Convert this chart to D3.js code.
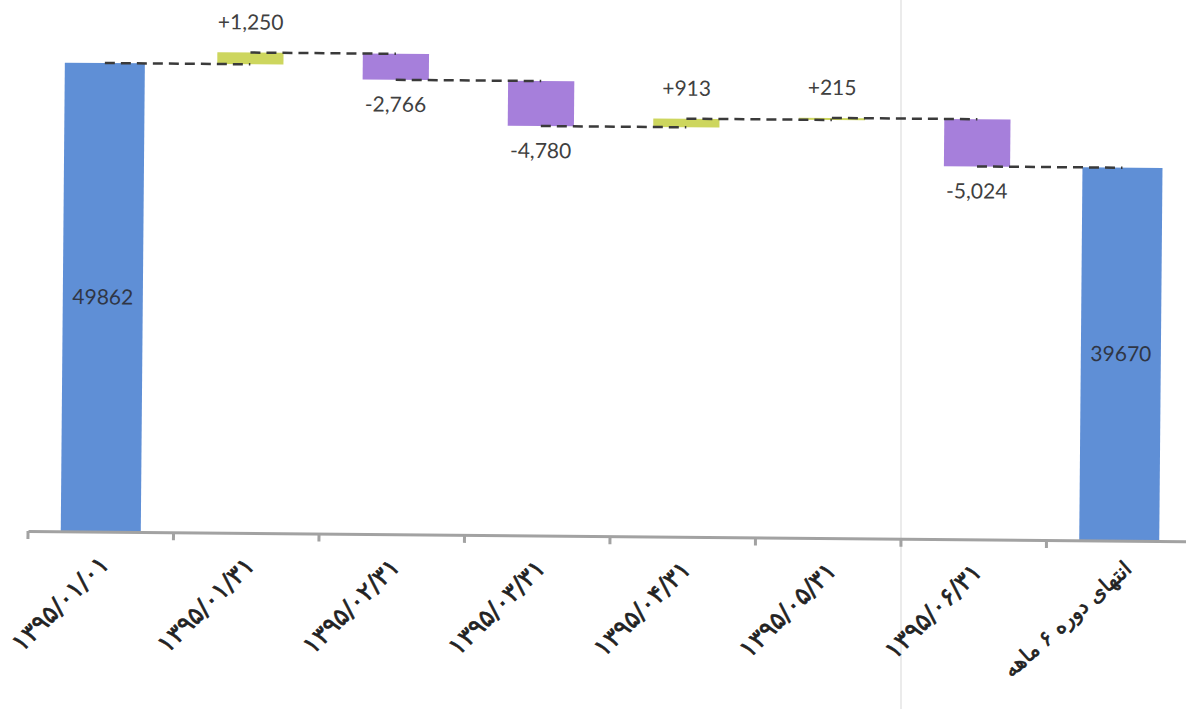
<!DOCTYPE html>
<html>
<head>
<meta charset="utf-8">
<script src="https://cdn.jsdelivr.net/npm/d3@7"></script>
<style>
  body { margin: 0; background: #ffffff; }
  svg { display: block; }
</style>
</head>
<body>
<div id="chart"></div>
<script>
// categories (Persian dates) and waterfall values
const categories = [
  "۱۳۹۵/۰۱/۰۱",
  "۱۳۹۵/۰۱/۳۱",
  "۱۳۹۵/۰۲/۳۱",
  "۱۳۹۵/۰۳/۳۱",
  "۱۳۹۵/۰۴/۳۱",
  "۱۳۹۵/۰۵/۳۱",
  "۱۳۹۵/۰۶/۳۱",
  "انتهای دوره ۶ ماهه"
];
const values = [49862, 1250, -2766, -4780, 913, 215, -5024, 39670];
const kinds = ["total", "delta", "delta", "delta", "delta", "delta", "delta", "total"];
const valueLabels = ["49862", "+1,250", "-2,766", "-4,780", "+913", "+215", "-5,024", "39670"];

const width = 1186, height = 709;
const baseline = 536;

const svg = d3.select("#chart").append("svg")
  .attr("width", width)
  .attr("height", height);

// faint vertical fold line of the scanned page
svg.append("line")
  .attr("x1", 901).attr("x2", 901)
  .attr("y1", 0).attr("y2", height)
  .attr("stroke", "#e4e4e4")
  .attr("stroke-width", 1.5);

// the scan is tilted a little, so the whole chart is turned by half a degree
const g = svg.append("g")
  .attr("transform", `rotate(0.5, 593, ${baseline})`);

// running totals for each step
let running = 0;
const steps = values.map((v, i) => {
  let y0, y1;
  if (kinds[i] === "total") {
    y0 = 0; y1 = v; running = v;
  } else {
    y0 = running; y1 = running + v; running = y1;
  }
  return { cat: categories[i], value: v, kind: kinds[i], y0, y1, end: running, label: valueLabels[i] };
});

const x = d3.scaleBand()
  .domain(categories)
  .range([28, 1192])
  .padding(0);

const y = d3.scaleLinear()
  .domain([0, 51112])
  .range([baseline, baseline - 51112 * 0.00940]);

const colors = { total: "#5f8fd6", up: "#cdd65e", down: "#a67fdb" };

const barW = d => (d.kind === "total" ? x.bandwidth() * 0.55 : x.bandwidth() * 0.455);
const cx = d => x(d.cat) + x.bandwidth() / 2;

// bars
g.selectAll("rect.bar")
  .data(steps)
  .enter()
  .append("rect")
  .attr("class", "bar")
  .attr("x", d => cx(d) - barW(d) / 2)
  .attr("width", d => barW(d))
  .attr("y", d => y(Math.max(d.y0, d.y1)))
  .attr("height", d => Math.abs(y(d.y0) - y(d.y1)))
  .style("fill", d => d.kind === "total" ? colors.total : (d.value >= 0 ? colors.up : colors.down));

// dashed connectors from bar centre to next bar centre
g.selectAll("line.conn")
  .data(steps.slice(0, -1))
  .enter()
  .append("line")
  .attr("class", "conn")
  .attr("x1", d => cx(d))
  .attr("x2", (d, i) => cx(steps[i + 1]))
  .attr("y1", d => y(d.end))
  .attr("y2", d => y(d.end))
  .attr("stroke", "#3a3a3a")
  .attr("stroke-width", 2.5)
  .attr("stroke-dasharray", "10,6");

// value labels
g.selectAll("text.val")
  .data(steps)
  .enter()
  .append("text")
  .attr("class", "val")
  .attr("x", d => cx(d))
  .attr("y", d => {
    if (d.kind === "total") return (y(0) + y(d.y1)) / 2 + 7;
    if (d.value >= 0) return y(d.y1) - 23;
    return y(d.y1) + 32;
  })
  .attr("text-anchor", "middle")
  .style("font-family", "Lato, 'Open Sans', sans-serif")
  .style("font-size", "21px")
  .style("fill", d => d.kind === "total" ? "#2f3645" : "#404040")
  .text(d => d.label);

// x axis
const axis = g.append("g")
  .attr("transform", `translate(0, ${baseline})`)
  .call(d3.axisBottom(x).tickSize(0).tickFormat(""));
axis.select(".domain")
  .attr("stroke", "#a2a2a2")
  .attr("stroke-width", 3);

// tick marks at band edges
const edges = categories.map(c => x(c));
axis.selectAll("line.edge")
  .data(edges)
  .enter()
  .append("line")
  .attr("class", "edge")
  .attr("x1", d => d).attr("x2", d => d)
  .attr("y1", 0).attr("y2", 8)
  .attr("stroke", "#a2a2a2")
  .attr("stroke-width", 3);

// rotated category labels
const last = categories[categories.length - 1];
axis.selectAll("text.cat")
  .data(categories)
  .enter()
  .append("text")
  .attr("class", "cat")
  .attr("text-anchor", "end")
  .attr("direction", "ltr")
  .attr("transform", d => d === last
    ? `translate(${x(d) + x.bandwidth() / 2 + 14}, 30) rotate(-42)`
    : `translate(${x(d) + x.bandwidth() / 2 + 10}, 34) rotate(-45)`)
  .style("font-family", "'DejaVu Sans', sans-serif")
  .style("font-size", d => d === last ? "21px" : "25px")
  .style("fill", "#222")
  .style("stroke", "#222")
  .style("stroke-width", 0.7)
  .text(d => d);
</script>
</body>
</html>
